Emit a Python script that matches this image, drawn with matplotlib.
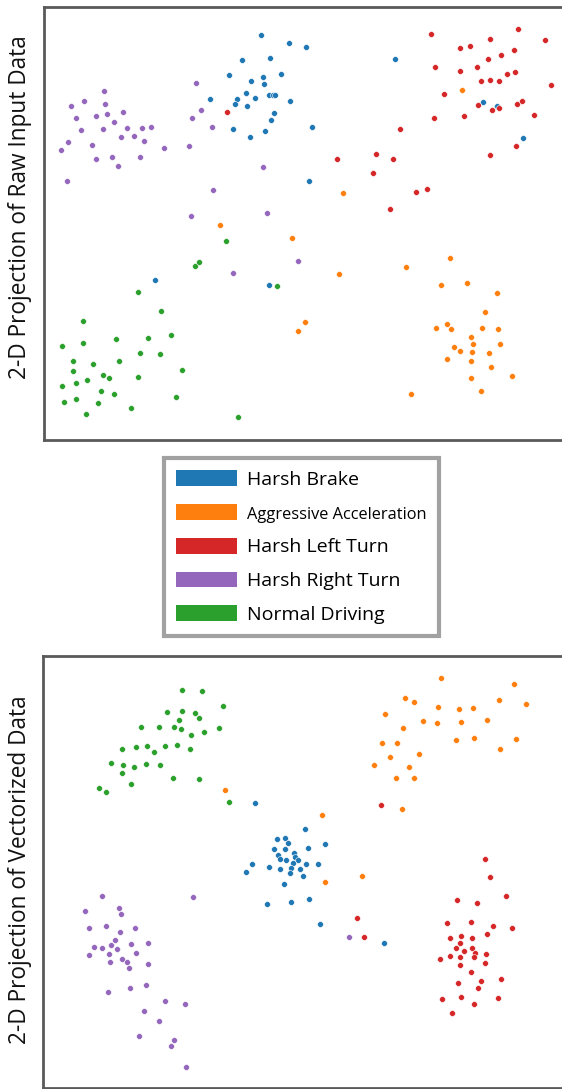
import matplotlib
matplotlib.use("Agg")
import matplotlib.pyplot as plt
from matplotlib.patches import Patch

plt.rcParams['font.family'] = ['Open Sans', 'DejaVu Sans']

categories = ["Harsh Brake", "Aggressive Acceleration", "Harsh Left Turn",
              "Harsh Right Turn", "Normal Driving"]
colors = ["#1f77b4", "#ff7f0e", "#d62728", "#9467bd", "#2ca02c"]

# ---- Panel 1: raw input data projection (arbitrary embedding units, y grows downward) ----
raw_brake = [(261,35),(242,60),(270,58),(229,75),(263,77),(281,74),(251,81),(264,84),(246,93),
             (210,99),(237,99),(235,104),(255,98),(269,95),(273,95),(275,95),(247,106),(274,113),
             (271,120),(233,129),(265,131),(250,137),(289,43),(306,47),(290,101),(312,127),(395,59),
             (309,181),(483,102),(497,106),(523,138),(155,280),(269,285)]
raw_accel = [(462,90),(343,193),(220,225),(292,238),(339,274),(406,267),(450,258),(441,285),
             (467,283),(497,293),(485,312),(305,322),(298,331),(436,328),(447,324),(451,329),
             (482,328),(498,329),(471,337),(473,344),(500,344),(454,347),(460,351),(472,352),
             (489,353),(447,359),(471,361),(491,367),(512,376),(471,378),(481,391),(411,394)]
raw_left = [(227,112),(431,34),(518,29),(490,39),(545,40),(460,48),(470,46),(514,50),(501,55),
            (488,59),(435,67),(460,71),(477,67),(507,74),(515,72),(481,81),(490,80),(499,81),
            (551,85),(444,94),(478,105),(492,110),(499,108),(517,104),(522,101),(464,116),
            (434,118),(534,115),(400,129),(516,146),(490,155),(337,159),(376,154),(393,159),
            (373,173),(416,192),(427,189),(390,209)]
raw_right = [(61,150),(68,142),(67,181),(71,106),(76,118),(81,130),(84,101),(92,145),(96,159),
             (96,116),(103,129),(104,91),(105,104),(107,114),(112,157),(114,122),(118,166),
             (121,137),(123,112),(127,128),(134,136),(140,157),(142,128),(144,141),(151,127),
             (164,148),(189,146),(192,118),(196,83),(201,110),(212,127),(213,190),(191,216),
             (263,167),(267,213),(233,273),(298,261)]
raw_normal = [(226,241),(195,266),(199,262),(277,286),(138,292),(161,311),(83,321),(116,339),
              (148,338),(171,335),(62,346),(83,343),(140,353),(160,354),(73,361),(119,361),
              (93,364),(73,371),(182,370),(103,375),(109,378),(87,380),(76,383),(138,377),
              (62,386),(101,391),(114,394),(176,397),(64,402),(76,399),(98,403),(131,408),
              (86,414),(238,417)]

# ---- Panel 2: vectorized data projection ----
vec_brake = [(255,803),(305,829),(277,839),(285,838),(288,843),(274,849),(285,849),(308,848),
             (325,844),(294,853),(278,855),(295,857),(280,859),(286,860),(298,860),(293,863),
             (252,864),(306,864),(318,864),(269,867),(280,869),(291,868),(300,869),(246,872),
             (290,873),(303,876),(284,884),(267,904),(291,902),(309,899),(320,924),(384,943)]
vec_accel = [(225,790),(441,678),(514,684),(405,698),(414,702),(438,707),(526,704),(499,700),
             (459,709),(473,708),(385,714),(423,721),(437,723),(461,722),(487,720),(403,728),
             (382,743),(397,743),(456,740),(474,738),(516,739),(500,749),(390,757),(419,754),
             (374,765),(409,767),(396,778),(414,778),(402,809),(322,815),(325,882),(362,876)]
vec_left = [(381,805),(485,859),(357,918),(364,937),(490,877),(506,896),(457,900),(477,903),
            (447,923),(471,922),(493,926),(512,928),(450,938),(461,936),(472,938),(487,934),
            (460,943),(456,948),(472,948),(464,951),(475,953),(474,957),(486,954),(440,959),
            (450,956),(460,957),(460,965),(485,963),(471,972),(458,983),(481,981),(501,979),
            (478,988),(442,999),(461,997),(474,1004),(498,998),(452,1013)]
vec_right = [(349,937),(102,896),(193,897),(85,911),(119,908),(121,914),(89,928),(106,926),
             (120,932),(135,928),(115,940),(111,945),(94,947),(102,948),(117,949),(131,944),
             (148,943),(89,955),(109,954),(136,953),(110,962),(122,959),(127,962),(129,968),
             (148,964),(108,992),(130,988),(146,985),(165,1001),(185,1004),(144,1011),
             (159,1021),(139,1036),(174,1040),(171,1046),(186,1067)]
vec_normal = [(182,690),(202,691),(223,706),(167,712),(182,711),(195,713),(199,718),(179,720),
              (141,727),(159,727),(174,727),(181,729),(219,728),(204,732),(191,735),(122,749),
              (136,747),(147,746),(154,752),(165,746),(177,745),(190,749),(111,763),(123,765),
              (134,767),(146,764),(160,765),(122,773),(173,778),(199,779),(131,784),(99,788),
              (106,792),(229,802)]

raw_sets = [raw_brake, raw_accel, raw_left, raw_right, raw_normal]
vec_sets = [vec_brake, vec_accel, vec_left, vec_right, vec_normal]

W, H = 562, 1089
fig = plt.figure(figsize=(W / 100, H / 100), dpi=100)

def make_axes(left, top, bottom, ylabel, label_center):
    ax = fig.add_axes([left / W, 1 - bottom / H, 1 - left / W, (bottom - top) / H])
    ax.set_xlim(left, W)
    ax.set_ylim(bottom, top)
    ax.set_xticks([]); ax.set_yticks([])
    for s in ["left", "top", "bottom"]:
        ax.spines[s].set_color("#5a5a5a")
        ax.spines[s].set_linewidth(2.0)
    ax.spines["right"].set_visible(False)
    fig.text(20 / W, 1 - label_center / H, ylabel, rotation=90, ha="center", va="center",
             fontsize=16.3, color="#111111")
    return ax

ax1 = make_axes(44, 7, 440, "2-D Projection of Raw Input Data", 207)
ax2 = make_axes(43, 656, 1088, "2-D Projection of Vectorized Data", 870)

for ax, sets in [(ax1, raw_sets), (ax2, vec_sets)]:
    for pts, c in zip(sets, colors):
        xs = [p[0] for p in pts]
        ys = [p[1] for p in pts]
        ax.scatter(xs, ys, s=18, color=c, edgecolors="white", linewidths=0.4, zorder=3)

handles = [Patch(facecolor=c, edgecolor="none") for c in colors]
leg = fig.legend(handles, categories, loc="upper left",
                 bbox_to_anchor=(164 / W, 1 - 458 / H), fontsize=14,
                 handlelength=3.15, handleheight=0.88, handletextpad=0.5,
                 labelspacing=0.78, borderpad=0.62, fancybox=False,
                 frameon=True, borderaxespad=0)
leg.get_frame().set_edgecolor("#8a8a8a")
leg.get_frame().set_linewidth(3)
leg.get_texts()[1].set_fontsize(11.8)

fig.savefig("out.png", dpi=100)
